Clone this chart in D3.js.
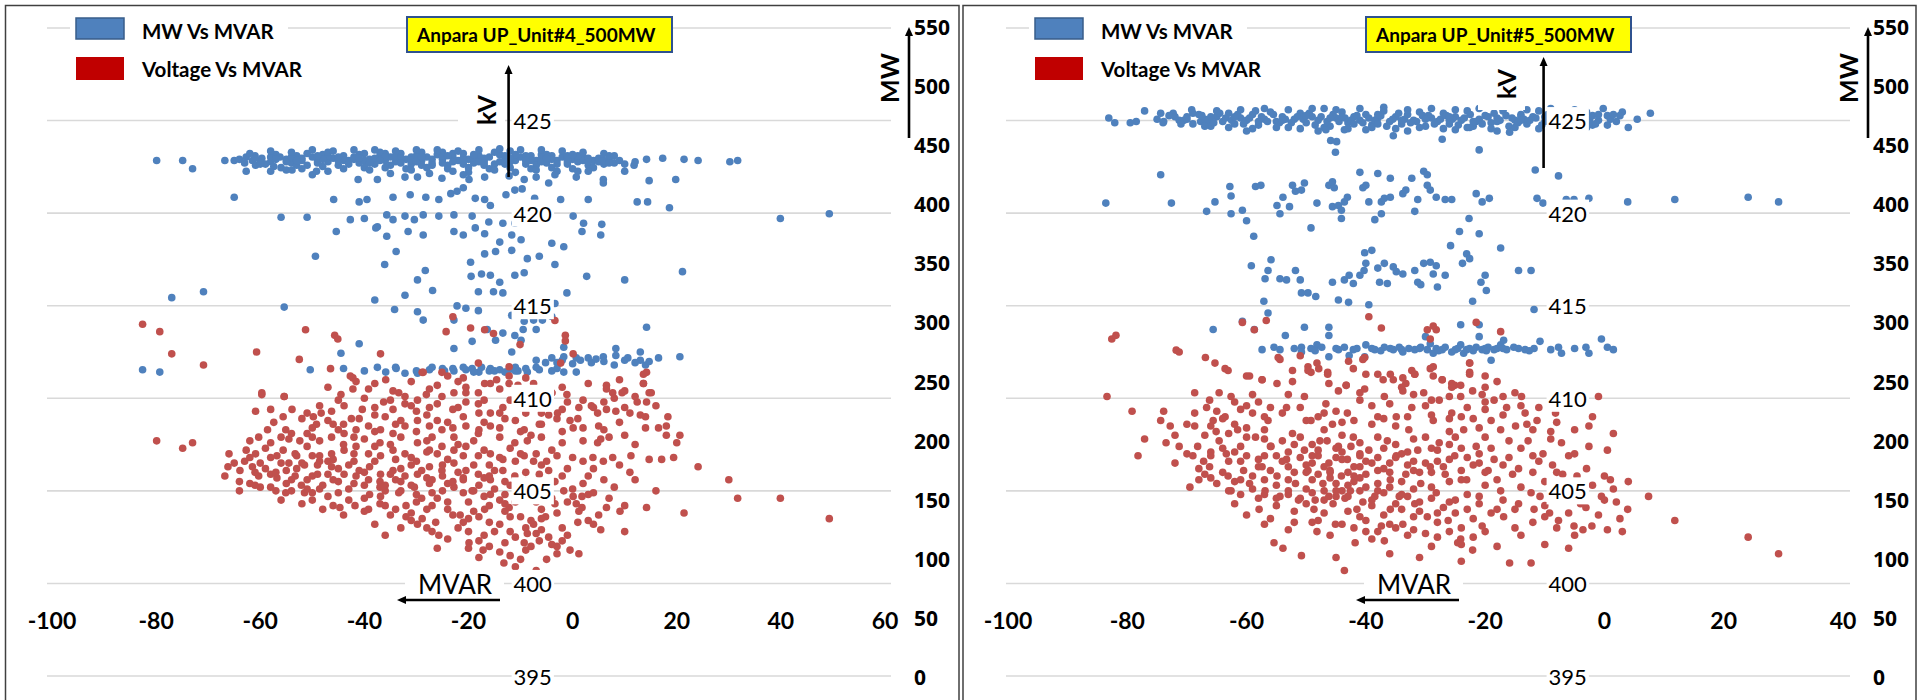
<!DOCTYPE html>
<html>
<head>
<meta charset="utf-8">
<script src="https://cdn.jsdelivr.net/npm/d3@7"></script>
<style>
  body { margin: 0; background: #fff; }
  svg { display: block; font-family: Lato, "Open Sans", sans-serif; }
</style>
</head>
<body>
<script>
const WIDTH = 1921, HEIGHT = 700;

// ---- data ----
const titles = ["Anpara UP_Unit#4_500MW", "Anpara UP_Unit#5_500MW"];
const legendLabels = ["MW Vs MVAR", "Voltage Vs MVAR"];
const mvarTicksUnit4 = [-100, -80, -60, -40, -20, 0, 20, 40, 60];
const mvarTicksUnit5 = [-100, -80, -60, -40, -20, 0, 20, 40];
const kvTicks = [395, 400, 405, 410, 415, 420, 425];
const kvGrid = [395, 400, 405, 410, 415, 420, 425, 430];
const mwTicks = [0, 50, 100, 150, 200, 250, 300, 350, 400, 450, 500, 550];

// Unit 4: [MVAR, MW]
const unit4MwVsMvar = [
  [-79.9,437],[-74.9,437],[-73.0,430],[-66.8,437],[-65.0,437],[-64,438],[-62.7,440],[-61.5,437],[-60.9,433],[-59.7,439],
  [-58,436],[-57.4,432],[-56.2,440],[-55,438],[-54,435],[-53,441],[-52,437],[-51,433],[-50,440],[-49,437],[-48,442],
  [-47,436],[-46,439],[-45,433],[-44,441],[-43,437],[-42,440],[-41,435],[-40,443],[-39,438],[-38,434],[-37,441],
  [-36,437],[-35,440],[-34,436],[-33,443],[-32,438],[-31,434],[-30,441],[-29,437],[-28,440],[-27,435],[-26,442],
  [-25,438],[-24,433],[-23,440],[-22,437],[-21,443],[-20,438],[-19,435],[-18,441],[-17,437],[-16,440],[-15,434],
  [-14,442],[-13,438],[-12,445],[-11,437],[-10,440],[-9,434],[-8,441],[-7,437],[-6,439],[-5,435],[-4,441],[-3,437],
  [-2,440],[-1,434],[0,438],[1,436],[2,440],[3,433],[4,437],[5,439],[6,434],[7,438],[8,435],[10,434],[11.8,433],
  [14.2,438],[14.7,420],[17.3,439],[19.8,421],[21.4,438],[24.1,437],[30.2,436],[31.7,437],
  [-44,437],[-38,439],[-31,440],[-27,438],[-19,439],[-9,438],[-6,442],[-36,443],[-23,436],[-14,436],[-1,441],
  [-52,439],[-47,441],[-40,437],[-34,441],[-29,433],[-21,439],[-17,433],[-12,436],[-4,438],[2,437],[-58,440],
  [-25,444],[-13,441],[-8,437],
  [-63,435],[-61,441],[-59,434],[-57,442],[-55,436],[-53,433],[-51,443],[-49,435],[-47,444],[-45,437],[-43,434],
  [-41,442],[-39,435],[-37,444],[-35,433],[-33,439],[-31,437],[-29,444],[-27,433],[-25,440],[-23,443],[-21,434],
  [-19,442],[-17,439],[-15,444],[-13,434],[-11,442],[-9,441],[-7,433],[-5,442],[-3,434],[-1,438],[1,441],[3,439],
  [5,436],[7,441],[9,437],[12,436],[-60,437],[-54,440],[-48,438],[-42,438],[-36,440],[-30,436],[-24,441],[-18,436],
  [-12,439],[-6,436],[0,442],[6,437],
  [-62,443],[-60,434],[-58,445],[-56,431],[-54,444],[-52,430],[-50,446],[-48,432],[-46,445],[-44,430],[-42,446],
  [-40,431],[-38,446],[-36,431],[-34,445],[-32,430],[-30,446],[-28,431],[-26,446],[-24,430],[-22,445],[-20,431],
  [-18,446],[-16,430],[-14,447],[-12,431],[-10,446],[-8,430],[-6,446],[-4,431],[-2,445],[0,430],[2,444],[4,431],
  [6,443],[8,441],[-61,439],[-57,438],[-53,437],[-49,441],[-45,440],[-41,439],[-37,437],[-33,435],[-29,440],
  [-25,435],[-21,437],[-17,435],[-13,436],[-9,437],[-5,439],[-1,436],[3,436],[7,435],
  [-55,429],[-47,428],[-39,429],[-31,429],[-23,428],[-15,429],[-7,429],[1,428],[-50,425],[-35,426],[-20,427],
  [-11,427],[-3,428],
  [-62.7,428],[-58,428],[-53.9,429],[-41.2,421],[-37.5,421],[-29.8,423],[-27.5,426],[-21,425],[-16.9,423],
  [-12.2,424],[-9.3,421],[-7,423],[-3.4,425],[0.7,423],[5.9,421],[5.9,418],[10,428],[-49.2,428],[-32.2,423],
  [-25.1,422],[-19.9,421],[-4.6,418],[3,428],
  [-65,406],[-45.9,404],[-41,402],[-39.5,404],[-34.5,406],[-31.2,408],[-28.2,406],[-25.7,404],[-23.4,409],
  [-22.2,411],[-21,414],[-18.7,405],[-16.9,404],[-15.8,399],[-12.8,408],[-11.1,412],[-9.7,413],[-7.3,405],
  [-2.3,404],[3,404],[12.4,402],[14.4,402],[18.6,397],[-56,389],[-51,389],[-42.7,387],[-40,388],[-37.5,381],
  [-35.7,391],[-34.5,387],[-32.2,390],[-30.4,387],[-28.7,391],[-25.7,390],[-22.8,391],[-19.3,390],[-16.1,385],
  [-13.4,384],[-11.1,384],[-7.5,391],[0.1,390],[2.1,384],[5.6,383],[-45.4,377],[-37.8,380],[-35.7,373],
  [-31.6,377],[-28.7,374],[-22.8,377],[-21,374],[-18.7,380],[-16.9,375],[-14,368],[-11.7,374],[-9.9,370],
  [-4,367],[-1.7,364],[1.8,377],[5.4,374],[39.9,388],[49.3,392],
  [-49.4,356],[-33.9,360],[-36.1,349],[-28.3,344],[-29.8,336],[-26.9,327],[-19.6,351],[-16.9,358],[-14.8,360],
  [-11.7,361],[-8.7,354],[-6.4,356],[-3.4,349],[-19.5,339],[-17.5,341],[-15.8,340],[-14,334],[-11.1,340],
  [-9.3,342],[2.7,339],[10,336],[21.1,343],[-18.1,326],[-15.2,326],[-13.4,325],[-32.2,323],[-38,319],[-77,321],
  [-70.9,326],[-55.4,313],[-22.2,314],[-20.5,312],[-18.1,310],[-3.4,316],[-1.1,325],[-34.2,311],[-29.8,309],
  [-28.7,302],[-22.8,302],[-11.7,306],[-9.3,301],[-7.5,302],[-5.8,302],[-4,305],[-16.4,294],[-13.4,291],
  [-11.1,289],[-9.5,294],[-7,294],[-19.3,284],[-14.8,285],[-9.9,285],[-22.8,278],[-11.7,275],[-1.7,279],
  [-41,282],[-44.5,274],[14.2,296],[8.3,278],[13,275],
  [-4,270],[-1.7,271],[0.7,270],[3,270],[5.9,271],[8.3,272],[10.6,270],[13,268],[16.5,270],[20.6,271],[-5.2,266],
  [-3,266],[0,265],[3.6,266],[6,267],[8,264],[12,266],[14,264],[14.7,267],[-7,268],[-2,268],[1.5,268],[4.5,269],[10,268],
  [-37.5,262],[-33.9,261],[-32.2,257],[-27.5,260],[-24.6,259],[-22.8,259],[-20.5,260],[-19.3,261],[-17.5,262],
  [-15.8,261],[-14,260],[-12.2,260],[-10.5,259],[-8.7,258],[-6.4,260],[-4,259],[-1.7,258],[0.7,258],[-50.4,260],
  [-82.6,260],[-79.3,258],[-35.9,258],[-29.8,257],[-18,258],[-13,258],[-16,259],[-11,262],[-21,262],[-25,261],
  [-9,261],[-34,262],[-30,259],[-27,262],[-23,261],[-19,258],[-15,259],[-11,259],[-7,262],[-3,261],[-44,261],[-40,259]
];

// Unit 4: [MVAR, kV]
const unit4KvVsMvar = [
  [-82.6,414.0],[-79.3,413.6],[-77.0,412.4],[-70.9,411.8],[-60.7,412.5],[-52.5,412.1],[-51.3,413.7],[-45.7,413.4],
  [-45.1,413.2],[-46.5,411.6],[-36.9,412.4],[-42.2,411.1],[-59.7,410.2],[-55.4,410.1],[-24.3,413.6],[-23.0,414.4],
  [-19.6,413.8],[-16.9,413.7],[-15.2,413.5],[-10.1,412.9],[-3.4,414.2],[-1.4,413.4],[-1.4,413.1],[0.1,412.4],
  [-2.3,411.9],[14.2,411.4],[13.6,410.8],[-28.9,411.4],[-24.0,411.2],[-18.1,411.9],[-15.8,410.8],[-12.2,411.7],
  [-12.2,410.8],[6.5,410.7],[9.5,410.3],[15.1,410.3],[-7.5,410.8],[-33.4,410.3],[-28.1,410.2],[-20.5,410.3],[-4.0,410.3],
  [-42.7,411.2],[-41.6,410.9],[-39.2,410.5],[-35.9,411.0],[-28.7,411.4],[-25.1,411.4],[-21.0,411.1],[-16.9,410.8],
  [-14.6,411.0],[-12.2,411.2],[-10.5,410.7],[-8.7,410.4],[-6.4,410.1],[-4.0,410.3],[-1.1,410.2],[1.2,409.5],
  [6.5,410.5],[7.7,410.3],[10.0,410.4],[13.6,411.3],[13.6,410.8],[14.7,410.3],[14.2,409.8],[12.4,409.8],[10.0,409.5],
  [6.5,409.4],[4.8,409.2],[3.6,409.6],[8.3,409.3],[13.0,409.1],[18.3,409.0],[16.5,408.4],[20.6,408.0],[20.0,407.6],
  [17.1,406.7],[24.1,406.3],[19.4,406.8],[30.0,405.6],[31.7,404.6],[39.9,404.6],[49.3,403.5],[21.4,403.8],
  [14.2,404.1],[10.0,402.8],[9.1,403.9],[6.5,404.1],[5.4,402.9],[3.0,403.4],[1.2,403.9],[0.7,404.3],[1.8,404.7],
  [3.9,406.8],[5.9,406.6],[7.7,406.8],[11.2,406.9],[14.7,406.7],[4.8,407.6],[5.4,407.8],[0.1,408.4],[-0.5,408.8],
  [-2.9,409.2],[-4.6,409.1],[-6.4,408.6],[-9.3,408.3],[-8.7,407.7],[-11.1,407.6],[-9.3,406.9],[-7.5,406.6],
  [-6.4,405.9],[-4.6,406.1],[-3.4,405.5],[-1.7,405.0],[0.1,404.7],[1.8,404.1],[-3.4,404.3],[-5.2,403.6],[-7.5,403.2],
  [-8.7,402.7],[-9.3,402.2],[-6.4,402.3],[-4.6,402.5],[-4.0,402.1],[-0.5,401.8],[1.2,401.6],[-7.0,400.7],[-13.2,401.1],
  [-12.0,401.5],[-17.2,401.8],[-19.9,402.2],[-25.7,402.6],[-29.8,403.2],[-28.9,403.5],[-26.3,403.3],[-21.6,403.7],
  [-16.9,404.0],[-14.0,404.5],[-12.2,404.1],[-15.8,404.8],[-19.3,405.0],[-22.8,405.2],[-27.5,405.4],[-30.4,405.2],
  [-33.4,404.9],[-36.9,404.7],[-39.2,404.0],[-41.8,404.2],[-44.7,404.1],[-48.6,405.1],[-51.5,404.9],[-55.1,404.9],
  [-52.1,405.3],[-53.3,405.8],[-56.8,405.7],[-60.3,405.8],[-61.5,406.3],[-63.9,406.1],[-66.8,405.8],[-66.2,406.3],
  [-65.0,406.5],[-62.7,407.2],[-60.9,407.0],[-60.3,407.9],[-58.6,408.3],[-57.4,408.7],[-55.6,409.0],[-55.1,408.3],
  [-54.5,407.8],[-52.4,407.7],[-51.0,408.1],[-49.2,408.6],[-49.8,409.0],[-48.3,409.2],[-46.3,409.3],[-43.9,409.6],
  [-42.5,408.9],[-40.4,409.4],[-38.0,409.5],[-36.3,409.8],[-34.5,409.4],[-32.2,409.7],[-29.8,409.9],[-27.5,409.5],
  [-25.1,410.1],[-22.8,410.3],[-20.5,409.8],[-18.1,409.7],[-15.8,409.2],[-13.4,409.5],[-15.8,408.5],[-18.1,408.1],
  [-20.5,408.5],[-22.8,407.9],[-25.1,408.3],[-27.5,408.5],[-29.8,408.8],[-32.2,408.5],[-34.5,408.1],[-36.9,408.3],
  [-39.2,408.5],[-41.6,408.3],[-43.9,408.1],[-46.3,407.9],[-48.6,407.7],[-51.0,407.4],[-53.3,407.0],[-55.6,407.2],
  [-56.8,406.9],[-54.5,406.5],[-51.5,406.4],[-48.6,406.6],[-46.3,406.3],[-43.9,405.9],[-41.6,405.8],[-39.2,405.6],
  [-36.9,405.9],[-34.5,406.1],[-32.2,405.8],[-29.8,405.9],[-27.5,406.3],[-25.1,406.1],[-22.8,406.5],[-20.5,406.1],
  [-18.1,405.9],[-15.8,405.6],[-13.4,406.1],[-11.1,405.8],[-13.4,406.7],[-15.8,407.0],[-18.1,406.9],[-20.5,407.4],
  [-22.8,407.2],[-25.1,407.4],[-27.5,407.2],[-29.8,407.6],[-32.2,407.0],[-34.5,407.2],[-36.9,406.9],[-39.2,407.0],
  [-41.6,407.4],[-43.9,407.2],[-46.3,407.0],[-48.6,406.9],[-51.0,409.2],[-53.9,409.4],[-58.0,409.4],[-60.9,409.3],
  [-59.7,410.3],[-55.4,410.1],[-48.6,409.6],[-44.5,410.2],[-42.2,410.5],[-34.5,410.4],[-32.2,410.1],[-27.5,410.5],
  [-20.5,410.6],[-18.1,410.3],[-79.9,407.7],[-74.9,407.3],[-73.0,407.6],
  [-30,404.4],[-26,404.6],[-24,404.0],[-20,404.4],[-18,403.6],[-14,403.2],[-12,402.8],[-10,403.6],[-6,404.0],
  [-22,403.0],[-17,402.6],[-10,401.3],[-8,402.0],[-13,402.2],[-2,403.0],[-3,402.0],[-28,404.0],[-32,404.2],
  [-36,405.0],[-40,405.3],[-45,405.5],[-47,404.7],[-50,405.8],[-58,406.8],[-62,405.4],[-64,405.0],[-35,403.7],
  [-38,403.2],[-33,403.0],[-20,402.8],[-6,405.2],[-2,405.8],[2,405.4],[4,406.2],[0,406.8],[-4,407.2],[-8,408.0],
  [-11,408.8],[-5,409.6],[-9,409.8],[-24,408.7],[-30,408.2],[-44,408.6],[-38,409.1],[-47,410.6],[-28,407.7],
  [-16,406.4],[-12,407.3],[-6,406.4],[8,405.2],[12,405.6],[16,405.0],[10,404.2],[4,403.2],
  [-38,410.8],[-31,410.9],[-26,410.7],[-22,410.9],[-14,410.5],[-9,411.1],[-2,410.6],[3,410.8],[9,411.0],[12,410.1],
  [-45,409.9],[-40,410.0],[-35,409.9],[-31,409.6],[-26,409.7],[-23,409.4],[-17,409.9],[-12,409.9],[-7,409.6],
  [-1,409.8],[2,409.9],[6,409.8],[11,409.2],[16,409.6],
  [-52,408.9],[-47,408.8],[-41,408.9],[-36,409.0],[-33,408.8],[-28,409.1],[-21,409.0],[-17,408.7],[-13,408.9],
  [-9,409.2],[-3,408.9],[1,408.9],[5,408.5],[9,408.7],[14,408.4],[18,408.5],
  [-56,407.9],[-50,407.9],[-45,408.3],[-40,407.8],[-37,407.6],[-33,407.9],[-27,407.9],[-23,408.4],[-19,407.7],
  [-14,407.9],[-10,408.2],[-6,407.9],[-2,408.2],[2,407.7],[7,407.9],[12,407.5],
  [-62,406.8],[-59,407.3],[-56,406.5],[-53,406.9],[-50,406.9],[-47,406.6],[-44,407.5],[-42,406.6],[-38,406.6],
  [-35,407.5],[-31,406.8],[-28,407.1],[-24,406.7],[-21,406.9],[-17,407.2],[-14,406.8],[-11,406.6],[-7,407.0],
  [-3,406.9],[2,406.6],[9,406.4],
  [-64,405.5],[-61,406.0],[-58,405.9],[-55,406.1],[-52,406.5],[-49,405.9],[-46,405.6],[-43,406.4],[-40,406.0],
  [-37,405.5],[-34,405.6],[-31,406.4],[-28,405.7],[-25,405.8],[-22,406.0],[-19,406.4],[-16,405.8],[-13,405.5],
  [-9,406.0],[-5,406.6],[-1,406.2],[3,405.8],[6,405.6],[11,406.0],
  [-60,405.2],[-57,405.0],[-54,405.6],[-51,405.1],[-48,405.3],[-45,404.9],[-42,405.4],[-39,404.8],[-36,405.3],
  [-33,405.5],[-30,404.8],[-27,404.9],[-24,405.4],[-21,404.9],[-18,405.3],[-15,405.1],[-12,405.3],[-9,404.8],
  [-5,405.0],[-1,404.4],[3,404.8],[7,404.6],
  [-50,404.5],[-46,404.2],[-43,404.5],[-40,403.9],[-37,404.3],[-34,404.0],[-31,403.8],[-27,404.2],[-23,403.7],
  [-19,403.9],[-16,403.3],[-13,403.9],[-11,404.4],[-8,403.4],[-6,403.5],[-3,403.8],[1,403.3],[5,403.7],
  [-36,402.6],[-31,403.4],[-27,402.8],[-24,402.4],[-21,403.3],[-18,402.3],[-15,402.8],[-11,402.5],[-9,401.8],
  [-7,402.7],[-5,401.3],[-3,401.6],[-1,402.6],[-14,401.7],[-11,400.9],[-18,401.4],
  [-63,406.6],[-61,405.3],[-59,406.2],[-57,406.0],[-55,405.4],[-53,406.2],[-51,405.6],[-49,406.4],[-47,405.9],
  [-45,406.2],[-43,405.1],[-41,406.1],[-39,406.3],[-37,405.2],[-35,405.9],[-33,406.2],[-31,405.3],[-29,406.1],
  [-27,405.6],[-25,406.4],[-23,405.5],[-21,405.7],[-19,405.0],[-17,405.7],[-15,406.1],[-13,404.8],[-11,405.2],
  [-9,405.5],[-7,404.4],
  [-58,407.6],[-54,408.1],[-50,408.4],[-46,408.6],[-42,407.9],[-38,408.2],[-34,408.6],[-30,409.3],[-26,408.8],
  [-22,409.5],[-18,409.2],[-14,409.2],[-10,409.5],[-6,409.2],[-2,409.4],[4,409.5],[8,410.0],
  [-52,404.3],[-48,404.0],[-44,403.7],[-40,404.6],[-36,404.2],[-32,403.6],[-28,403.0],[-24,404.4],[-20,403.5],
  [-16,404.2],[-12,403.6],[-8,404.9],[-4,404.6],[0,405.1],[4,404.9],
  [-33,405.0],[-29,404.6],[-25,405.0],[-21,405.6],[-17,404.7],[-13,404.3],[-9,403.0],[-6,402.9],[-2,402.3],
  [-16,402.0],[-20,401.9],[-26,401.9],
  [-66,407.0],[-62,407.7],[-60,406.5],[-58,405.2],[-56,404.5],[-54,405.0],[-50,404.9],[-46,406.7],[-42,407.0],
  [-38,407.4],[-34,406.7],[-30,406.6],[-26,407.0],[-22,407.5],[-18,408.3],[-14,408.4],[-10,407.0],[-6,408.6],
  [-2,407.6],[2,408.4],[6,408.3],[10,408.0],[14,409.0],[18,408.0]
];

// Unit 5: [MVAR, MW]
const unit5MwVsMvar = [
  [-83.1,473],[-82.1,469],[-79.5,469],[-78.5,470],[-77.1,479],[-74.4,477],[-73.9,470],[-72.3,477],[-71.3,471],
  [-69.2,480],[-67.7,470],
  [-70,474],[-69,468],[-68,476],[-67,472],[-66,466],[-65,474],[-64,470],[-63,477],[-62,468],[-61,473],[-60,471],
  [-59,476],[-58,467],[-57,472],[-56,478],[-55,470],[-54,474],[-53,465],[-52,472],[-51,477],[-50,469],[-49,474],
  [-48,471],[-47,481],[-46,466],[-45,473],[-44,478],[-43,469],[-42,474],[-41,471],[-40,476],[-39,467],[-38,473],
  [-37,479],[-36,470],[-35,474],[-34,468],[-33,476],[-32,471],[-31,478],[-30,466],[-29,473],[-28,470],[-27,477],
  [-26,468],[-25,474],[-24,471],[-23,479],[-22,466],[-21,472],[-20,475],[-19,469],[-18,473],[-17,479],[-16,466],
  [-15,471],[-14,476],[-13,468],[-12,474],[-11,479],[-10,470],[-9,473],[-8,467],[-7,472],[-6,476],[-5,469],[-4,474],
  [-3,478],[-2,467],[-1,471],[0.5,475],[2,470],[3,478],[4,465],[5.5,472],
  [-66.5,471],[-63.5,473],[-60.5,468],[-57.5,474],[-54.5,469],[-51.5,474],[-48.5,467],[-45.5,476],[-42.5,471],
  [-39.5,473],[-36.5,466],[-33.5,472],[-30.5,475],[-27.5,472],[-24.5,467],[-21.5,470],[-18.5,477],[-15.5,473],
  [-12.5,471],[-9.5,476],[-6.5,470],[-64.5,477],[-58.5,479],[-52.5,469],[-44.5,470],[-37.5,475],[-31.5,470],
  [-25.5,472],[-19.5,474],[-13.5,472],[-8.5,477],[-3.5,470],
  [-72,474],[-70.5,471],[-67.5,475],[-65.5,469],[-62.5,471],[-61.5,476],[-59.5,473],[-56.5,470],[-55.5,476],
  [-53.5,472],[-50.5,472],[-49.5,477],[-47.5,474],[-46.5,470],[-43.5,473],[-41.5,475],[-40.5,469],[-38.5,471],
  [-35.5,472],[-34.5,477],[-32.5,469],[-29.5,475],[-28.5,468],[-26.5,475],[-23.5,473],[-22.5,476],[-20.5,468],
  [-17.5,471],[-16.5,475],[-14.5,469],[-11.5,473],[-10.5,467],[-7.5,474],[-5.5,472],[-4.5,476],[-2.5,472],
  [-1.5,468],[1,472],[-44,474],[-38,468],[-26,471],[-14,474],
  [-75,472],[-73,475],[-71,468],[-69,477],[-67,466],[-65,479],[-63,465],[-61,480],[-59,464],[-57,481],[-55,465],
  [-53,480],[-51,464],[-49,481],[-47,465],[-45,480],[-43,464],[-41,481],[-39,465],[-37,482],[-35,464],[-33,480],
  [-31,465],[-29,481],[-27,464],[-25,480],[-23,465],[-21,481],[-19,464],[-17,481],[-15,465],[-13,480],[-11,464],
  [-9,481],[-7,466],[-5,480],[-3,465],
  [-74,469],[-70,472],[-66,474],[-62,474],[-58,470],[-54,471],[-50,475],[-46,473],[-42,468],[-38,476],[-34,471],
  [-30,472],[-26,474],[-22,470],[-18,470],[-14,471],[-10,474],[-6,473],[-2,475],
  [-60,462],[-48,462],[-40,463],[-33,462],[-25,463],[-18,462],[-9,463],
  [-4.1,473],[-2.6,469],[-1,476],[-0.2,481],[0.5,467],[1.5,476],[2.6,475],[7.7,477],
  [-46.7,463],[-45.9,454],[-44.9,453],[-45.1,444],[-43.6,463],[-35.4,458],[-27.2,455],[-21,446],[-15.9,461],[-22.6,465],
  [-11.6,429],[-7.7,424],[-74.4,425],[-83.6,401],[-72.6,401],[-66.7,394],[-65.3,402],[-62.8,415],[-62.6,407],
  [-62.6,392],[-60.7,395],[-60,386],[-58.8,373],[-58.5,415],[-57.6,416],[-54.9,399],[-54.4,392],[-53.9,406],
  [-52.8,398],[-52.3,416],[-51.8,411],[-50.8,412],[-50.3,418],[-49.2,380],[-48.2,401],[-46.2,416],[-45.6,419],
  [-45.3,414],[-45.6,398],[-44.6,399],[-44.1,395],[-43.6,402],[-43.1,406],[-44.1,388],[-41,427],[-40.5,414],
  [-40,416],[-39.5,402],[-38,426],[-37.4,402],[-36.9,405],[-37.4,392],[-38.5,387],[-35.9,422],[-35.9,406],
  [-33.8,409],[-33.3,412],[-32.3,422],[-31.8,394],[-31.3,404],[-30.3,428],[-29.7,425],[-29.7,416],[-29.2,412],
  [-28.2,406],[-26.7,404],[-25.6,404],[-22.7,388],[-21.5,409],[-20.5,402],[-19.3,405],[-24.3,377],[-21,375],
  [-17.4,363],[-11.3,405],[-10.3,401],[-6.4,404],[-5.1,404],[-2.6,405],[3.9,402],[11.8,404],[24.1,406],[29.2,402],
  [-59.2,348],[-55.9,353],[-56.4,344],[-56.9,337],[-54.4,337],[-53.3,336],[-51.8,344],[-51,336],[-50.8,325],
  [-49.7,325],[-48.4,322],[-57.1,318],[-44.6,319],[-42.9,317],[-39.5,315],[-45.6,334],[-43.6,336],[-42.8,340],
  [-42.1,333],[-41,340],[-40.3,344],[-40.2,359],[-39,361],[-40,350],[-38,346],[-37.7,334],[-36.4,333],[-36.9,350],
  [-35.4,347],[-34.9,343],[-33.8,341],[-31.8,344],[-31.3,334],[-30.8,332],[-30.3,350],[-29.2,351],[-28.7,341],
  [-28.2,348],[-28,330],[-26.7,340],[-25.8,365],[-23.8,350],[-23.1,358],[-22.6,354],[-20.7,334],[-20,340],
  [-19.8,327],[-22.1,318],[-14.4,344],[-12.3,344],[-11.8,311],
  [-65.6,294],[-60.7,301],[-58.7,294],[-56.4,308],[-57.4,277],[-55.4,279],[-54.4,277],[-53.5,289],[-50.8,279],
  [-50.3,296],[-49.2,278],[-48.2,281],[-46.2,296],[-46.2,289],[-44.6,277],[-43.6,279],[-42.1,277],[-40,281],
  [-38.5,277],[-36.9,279],[-35.9,278],[-35.4,277],[-34.4,279],[-33.8,275],[-32.8,278],[-31.8,277],[-30.8,279],
  [-30,288],[-29.7,277],[-29.2,282],[-28.7,274],[-28.2,278],[-27.2,277],[-26.7,279],[-25.6,275],[-24.6,278],
  [-24.1,298],[-24.1,281],[-23.6,274],[-23.1,277],[-22.6,278],[-21.5,279],[-21,298],[-21,288],[-20.5,277],
  [-20,278],[-19.5,279],[-19,268],[-18.5,277],[-18,278],[-17.4,281],[-16.9,285],[-16.4,277],[-14.4,278],
  [-13.3,277],[-11.8,278],[-10.8,284],[-7.7,279],[-7.2,274],[-3.1,279],[-2.6,274],[-0.5,286],[0.5,279],
  [1.5,277],[-42.8,272],[-46.2,271],[-40.2,271],[-50.8,275],[-47.4,279],[-41.5,278],
  [-39,278],[-37.5,276],[-34,277],[-31,278],[-27.8,276],[-25,277],[-22,276],[-19.8,276],[-17,278],[-15.2,279],
  [-12.6,276],[-9,277],[-5,278],[-45,278],[-48.5,276],[-52,278]
];

// Unit 5: [MVAR, kV]
const unit5KvVsMvar = [
  [-82.6,413.2],[-81.9,413.4],[-71.8,412.6],[-71.3,412.5],[-66.9,412.2],[-65.3,411.9],[-63.6,411.6],[-63.1,411.5],
  [-60.7,414.1],[-58.7,413.7],[-56.7,414.2],[-59.5,411.2],[-57.4,411.0],[-54.7,412.2],[-52.3,411.5],[-51,412.3],
  [-49.7,411.7],[-49.2,411.4],[-47.9,411.6],[-46.4,411.4],[-46.2,410.8],[-43.3,410.7],[-42.9,412.0],[-42.1,411.6],
  [-40.2,412.2],[-39.5,414.4],[-40,411.3],[-37.4,413.8],[-37.1,411.0],[-35.9,411.3],[-33.8,411.1],[-33.3,410.8],
  [-32.3,411.5],[-31.8,411.3],[-29.7,413.7],[-29.2,413.2],[-28.2,413.7],[-28.7,411.7],[-28.7,411.2],[-27.2,411.0],
  [-25.6,410.8],[-25.1,410.7],[-24.1,410.7],[-22.6,411.9],[-22.6,411.4],[-21.5,414.1],[-20,410.6],[-17.4,413.6],
  [-28.7,413.9],
  [-83.4,410.1],[-79.2,409.3],[-78.2,406.9],[-77.1,407.8],[-74.4,408.8],[-73.9,409.3],[-72.8,408.5],[-73.5,407.6],
  [-71.3,407.4],[-69.5,405.2],[-68.7,410.3],[-68.7,409.2],[-68.7,408.5],[-68.2,407.4],[-67.2,406.6],[-66.2,406.3],
  [-66.7,409.5],[-66.2,409.9],[-65.6,408.8],[-65.1,408.2],[-64.6,410.3],[-64.6,407.7],[-63.6,409.0],[-63.4,407.0],
  [-63.1,405.8],[-62.6,410.1],[-62.6,405.0],[-61.5,408.3],[-61.0,407.4],[-60.5,406.1],[-60.0,411.2],[-60.0,406.9],
  [-59.5,405.4],[-59.0,409.2],[-58.5,407.9],[-57.9,404.0],[-57.4,411.0],[-57.4,406.3],[-56.9,405.0],[-56.4,408.8],
  [-55.9,407.4],[-55.4,402.2],[-54.9,410.8],[-54.9,405.8],[-54.4,412.1],[-54.4,404.7],[-53.9,401.9],[-53.3,409.5],
  [-53.3,406.7],[-52.3,410.9],[-52.3,408.1],[-51.8,405.4],[-51.3,404.5],[-50.8,401.5],[-50.3,410.1],[-50.3,407.2],
  [-49.7,411.5],[-49.7,406.1],[-49.2,408.8],[-48.7,404.0],[-48.2,402.8],[-48.2,411.9],[-47.7,407.7],[-47.2,405.4],
  [-46.7,409.7],[-46.4,411.3],[-46.2,406.5],[-46.2,404.7],[-45.6,408.6],[-45.1,403.2],[-44.6,410.4],[-44.6,407.4],
  [-44.1,405.8],[-43.6,400.7],[-43.3,410.7],[-43.1,409.2],[-43.1,406.7],[-42.6,405.0],[-42.1,407.9],[-41.8,402.2],
  [-41.5,404.0],[-41.0,409.9],[-41.0,406.3],[-40.5,412.1],[-40.2,410.5],[-40.0,405.2],[-39.5,407.2],[-39.0,408.6],
  [-38.5,404.7],[-38.0,411.3],[-38.0,406.1],[-37.4,403.1],[-36.9,410.1],[-36.9,402.3],[-36.4,407.7],[-35.9,405.6],
  [-35.9,404.0],[-35.4,411.0],[-34.9,409.0],[-34.9,406.9],[-34.4,404.7],[-33.8,410.4],[-33.8,403.2],[-33.3,405.9],
  [-32.8,408.3],[-32.3,409.5],[-31.8,404.3],[-31.8,411.3],[-31.3,407.2],[-30.8,405.4],[-30.3,410.3],[-29.7,403.6],
  [-29.2,406.3],[-29.2,411.6],[-28.7,408.8],[-28.2,404.9],[-27.7,409.9],[-27.7,407.6],[-27.2,411.0],[-26.7,405.9],
  [-26.2,403.4],[-25.6,410.6],[-25.6,409.2],[-25.1,406.9],[-24.6,402.2],[-24.1,410.1],[-24.1,402.4],[-23.6,408.3],
  [-23.1,405.6],[-22.6,411.9],[-22.6,411.3],[-22.1,410.4],[-22.1,401.8],[-21.5,407.4],[-21.0,404.7],[-20.5,410.2],
  [-20.5,403.1],[-20.0,409.4],[-19.5,406.1],[-19.0,408.8],[-18.5,409.9],[-18.5,406.7],[-18.0,404.0],[-17.4,408.3],
  [-17.4,405.0],[-16.9,403.6],[-16.4,409.5],[-15.9,401.1],[-15.4,405.9],[-14.9,408.5],[-14.4,404.3],[-14.4,406.2],
  [-13.9,410.1],[-13.3,409.2],[-12.8,407.7],[-12.3,401.1],[-12.3,404.9],[-11.8,404.0],[-11.3,408.8],[-10.8,404.7],
  [-10.3,407.0],[-9.2,403.8],[-8.7,406.4],[-8.2,409.2],[-7.7,403.4],[-7.2,407.6],[-6.2,405.0],[-5.1,403.1],
  [-4.6,405.8],[-3.6,402.9],[-2.6,408.5],[-2.6,407.4],[-2.1,403.1],[-1.0,410.1],[-0.5,404.7],[0.0,405.8],
  [0.5,407.2],[0.5,402.9],[1.0,405.6],[1.5,408.1],[2.6,403.5],[3.9,404.0],[7.4,404.7],[11.8,403.4],[24.1,402.5],
  [29.2,401.6],[1.5,405.1],[-3.1,404.1],
  [-50,406.4],[-49,405.6],[-48,406.9],[-47,405.0],[-46,406.1],[-45,405.4],[-44,406.7],[-43,405.3],[-42,406.3],
  [-41,405.7],[-48.5,404.5],[-45.5,404.3],[-43.5,404.6],[-40.5,404.4],[-46.5,407.7],[-42.5,407.4],[-52,406.0],
  [-53,404.8],[-55,406.9],[-57,407.8],[-58,409.8],[-60,409.6],[-62,408.6],[-64,406.0],[-66,405.7],[-68,405.6],
  [-70,407.0],[-72,406.5],[-38,405.4],[-36,406.5],[-34,405.5],[-32,406.6],[-30,407.9],[-28,406.6],[-26,408.2],
  [-24,407.3],[-22,408.9],[-20,407.9],[-35,403.0],[-32,403.6],[-30,402.7],[-28,403.8],[-26,404.4],[-24,403.0],
  [-40,403.4],[-38,402.8],[-36,409.7],[-34,410.6],[-30,409.6],[-26,410.1],[-20,411.2],[-18,410.9],[-15,410.3],
  [-12,406.0],[-10,405.5],[-8,404.5],[-6,406.9],[-4,404.3],
  [-64,408.9],[-61,409.4],[-57,409.0],[-54,409.2],[-51,409.5],[-48,409.0],[-45,409.3],[-42,408.8],[-39,409.6],
  [-37,408.9],[-33,409.0],[-29,409.1],[-24,409.0],[-21,408.4],[-17,409.1],[-12,408.3],[-9,408.2],
  [-67,408.0],[-63,408.1],[-60,408.4],[-57,408.3],[-54,407.7],[-51,407.9],[-49,407.5],[-47,408.3],[-44,408.0],
  [-41,407.6],[-38,407.9],[-35,407.5],[-32,407.8],[-29,407.3],[-26,407.5],[-23,406.8],[-19,407.3],[-16,407.7],
  [-13,408.6],[-9,407.8],[-5,407.0],
  [-69,406.9],[-66,407.1],[-63,406.6],[-61,406.6],[-58,406.7],[-56,406.1],[-53,406.3],[-51,406.8],[-49,406.9],
  [-47,406.3],[-45,406.8],[-43,406.0],[-41,406.9],[-39,406.5],[-37,406.2],[-35,406.8],[-33,406.4],[-31,406.0],
  [-27,406.3],[-24,406.1],[-21,406.5],[-17,406.4],[-14,407.3],[-11,406.6],[-7,405.9],[-3,406.2],
  [-67,405.9],[-65,405.4],[-62,405.5],[-59,405.8],[-57,405.6],[-55,405.3],[-53,405.6],[-50,405.1],[-48,405.9],
  [-46,405.7],[-44,405.0],[-42,405.5],[-40,405.9],[-38,405.0],[-36,405.2],[-34,404.8],[-32,405.1],[-29,405.2],
  [-26,405.5],[-23,404.8],[-20,405.3],[-17,404.5],[-14,405.2],[-10,404.2],[-6,404.6],[-2,405.3],[2,404.4],[4,405.5],
  [-62,404.3],[-58,404.6],[-55,404.2],[-52,403.9],[-50,404.3],[-47,403.8],[-45,404.7],[-43,403.9],[-41,403.6],
  [-39,404.2],[-37,403.7],[-34,404.0],[-31,403.9],[-28,403.3],[-25,403.8],[-22,403.5],[-19,403.8],[-15,403.0],
  [-12,403.3],[-8,403.0],[-5,402.6],[-1,403.7],[3,402.8],
  [-57,403.2],[-53,402.9],[-49,403.3],[-46,402.6],[-42,403.0],[-39,402.4],[-33,402.6],[-29,402.0],[-26,402.8],
  [-22,402.5],[-18,402.0],[-14,402.6],[-10,402.1],[-6,401.9],[-31,401.4],[-36,401.6],[-45,401.4],[-24,401.2],
  [-66,408.5],[-64,407.3],[-62,407.1],[-60,407.9],[-58,406.3],[-56,407.4],[-54,406.6],[-52,407.5],[-50,406.0],
  [-48,407.2],[-46,406.0],[-44,407.1],[-42,405.8],[-40,406.6],[-38,406.8],[-36,406.0],[-34,407.0],[-32,406.1],
  [-30,406.5],[-28,407.2],[-26,406.7],[-24,405.6],[-22,406.4],[-20,406.0],[-18,405.6],
  [-63,405.0],[-61,404.8],[-59,405.1],[-57,404.8],[-55,404.6],[-53,405.0],[-51,404.6],[-49,404.9],[-47,404.5],
  [-45,405.0],[-43,404.7],[-41,405.0],[-39,404.5],[-37,404.9],[-35,404.3],[-33,404.7],[-31,404.4],[-29,404.6],
  [-27,404.1],[-25,404.5],[-23,404.0],[-21,404.3],
  [-60,403.7],[-56,403.5],[-52,403.3],[-48,403.4],[-44,403.2],[-40,402.8],[-36,403.2],[-32,402.9],[-28,402.5],
  [-24,402.1],[-20,402.8],
  [-65,409.3],[-62,409.8],[-59,410.2],[-56,409.5],[-53,410.2],[-50,408.8],[-47,409.2],[-44,408.7],[-41,410.3],
  [-38,409.0],[-35,408.5],[-32,410.2],[-29,409.9],[-26,408.9],[-23,409.5],[-20,409.8],[-17,410.1],[-14,409.6],
  [-11,409.5],[-8,408.7],[-5,408.3],[-2,409.0],
  [-70,408.6],[-72,408.0],[-68,406.2],[-66,406.9],[-61,405.6],[-57,406.9],[-53,407.1],[-49,406.5],[-45,407.3],
  [-41,407.0],[-37,407.3],[-33,407.1],[-29,406.0],[-25,407.9],[-21,407.0],[-16,406.8],[-12,406.9],[-8,406.0],
  [-4,405.4],[0,404.5],[-15,404.0],[-10,403.6],[-6,403.8]
];

// ---- layout ----
const BLUE = "#4F81BD", RED = "#C0504D";
const DOT_R = 3.8;
const yKv = d3.scaleLinear().domain([395, 430]).range([676, 28]);
const yMw = d3.scaleLinear().domain([0, 550]).range([677, 27]);

const panels = [
  { dx: 0, frame: [5.5, 959], title: titles[0], mw: unit4MwVsMvar, kv: unit4KvVsMvar,
    ticks: mvarTicksUnit4, xRange: [52, 885], kvCross: -12.3, kvArrow: [177, 65], kvText: [486, 110] },
  { dx: 959, frame: [963, 1916], title: titles[1], mw: unit5MwVsMvar, kv: unit5KvVsMvar,
    ticks: mvarTicksUnit5, xRange: [1008, 1843], kvCross: -10.2, kvArrow: [168, 57], kvText: [1506, 84] }
];

const svg = d3.select("body").append("svg")
  .attr("width", WIDTH)
  .attr("height", HEIGHT)
  .attr("viewBox", [0, 0, WIDTH, HEIGHT]);

svg.append("rect").attr("width", WIDTH).attr("height", HEIGHT).attr("fill", "#fff");

function arrow(g, x1, y1, x2, y2) {
  const ang = Math.atan2(y2 - y1, x2 - x1);
  const len = 9, half = 4;
  const bx = x2 - len * Math.cos(ang), by = y2 - len * Math.sin(ang);
  g.append("line")
    .attr("x1", x1).attr("y1", y1).attr("x2", bx).attr("y2", by)
    .attr("stroke", "#000").attr("stroke-width", 2.6);
  g.append("path")
    .attr("d", `M${x2},${y2}L${bx - half * Math.sin(ang)},${by + half * Math.cos(ang)}L${bx + half * Math.sin(ang)},${by - half * Math.cos(ang)}Z`)
    .attr("fill", "#000");
}

// white box behind a text node
function backfill(text, pad = 2) {
  const b = text.node().getBBox();
  d3.select(text.node().parentNode).insert("rect", () => text.node())
    .attr("x", b.x - pad).attr("y", b.y).attr("width", b.width + pad * 2).attr("height", b.height)
    .attr("fill", "#fff");
}

function drawPanel(p) {
  const g = svg.append("g");
  const dx = p.dx;
  const x = d3.scaleLinear().domain(d3.extent(p.ticks)).range(p.xRange);
  const kvX = x(p.kvCross);

  // gridlines
  g.append("g")
    .selectAll("line")
    .data(kvGrid)
    .join("line")
    .attr("x1", 47 + dx).attr("x2", 891 + dx)
    .attr("y1", d => yKv(d)).attr("y2", d => yKv(d))
    .attr("stroke", "#d9d9d9").attr("stroke-width", 1.6);

  // dots: MW series first, voltage series over it
  g.append("g")
    .selectAll("circle")
    .data(p.mw)
    .join("circle")
    .attr("cx", d => x(d[0]))
    .attr("cy", d => yMw(d[1]))
    .attr("r", DOT_R)
    .attr("fill", BLUE);
  g.append("g")
    .selectAll("circle")
    .data(p.kv)
    .join("circle")
    .attr("cx", d => x(d[0]))
    .attr("cy", d => yKv(d[1]))
    .attr("r", DOT_R)
    .attr("fill", RED);

  // MVAR tick labels
  g.append("g")
    .selectAll("text")
    .data(p.ticks)
    .join("text")
    .attr("x", d => x(d))
    .attr("y", 620)
    .attr("text-anchor", "middle")
    .attr("dominant-baseline", "central")
    .attr("font-size", 23)
    .attr("font-weight", "bold")
    .text(d => d);

  // kV labels, white backed
  const kvG = g.append("g");
  kvTicks.forEach(v => {
    const lg = kvG.append("g");
    const t = lg.append("text")
      .attr("x", kvX + 5)
      .attr("y", yKv(v))
      .attr("dominant-baseline", "central")
      .attr("font-size", 22)
      .text(v);
    backfill(t);
  });

  // MW labels
  g.append("g")
    .selectAll("text")
    .data(mwTicks)
    .join("text")
    .attr("x", 914 + dx)
    .attr("y", d => yMw(d))
    .attr("dominant-baseline", "central")
    .style("font-family", "\"Open Sans\", Lato, sans-serif")
    .style("font-size", "21px")
    .style("font-weight", "700")
    .text(d => d);

  // kV arrow and caption
  g.append("rect")
    .attr("x", p.kvText[0] - 28).attr("y", p.kvText[1] - 26)
    .attr("width", 47).attr("height", 52).attr("fill", "#fff");
  g.append("text")
    .attr("transform", `translate(${p.kvText[0]},${p.kvText[1]}) rotate(-90)`)
    .attr("text-anchor", "middle")
    .attr("dominant-baseline", "central")
    .attr("font-size", 25)
    .attr("font-weight", "bold")
    .text("kV");
  arrow(g, kvX, p.kvArrow[0], kvX, p.kvArrow[1]);

  // MW arrow and caption
  g.append("text")
    .attr("transform", `translate(${889 + dx},78) rotate(-90)`)
    .attr("text-anchor", "middle")
    .attr("dominant-baseline", "central")
    .attr("font-size", 25)
    .attr("font-weight", "bold")
    .text("MW");
  arrow(g, 909 + dx, 138, 909 + dx, 27);

  // MVAR caption and arrow
  g.append("rect")
    .attr("x", 405 + dx).attr("y", 571).attr("width", 99).attr("height", 26).attr("fill", "#fff");
  g.append("text")
    .attr("x", 455 + dx).attr("y", 584)
    .attr("text-anchor", "middle")
    .attr("dominant-baseline", "central")
    .attr("font-size", 26)
    .text("MVAR");
  arrow(g, 500 + dx, 600, 397 + dx, 600);

  // legend
  const lg = g.append("g");
  lg.append("rect").attr("x", 70 + dx).attr("y", 12).attr("width", 218).attr("height", 76).attr("fill", "#fff");
  lg.append("rect").attr("x", 76 + dx).attr("y", 18).attr("width", 48).attr("height", 21)
    .attr("fill", BLUE).attr("stroke", "#385D8A").attr("stroke-width", 1.5);
  lg.append("rect").attr("x", 76 + dx).attr("y", 57).attr("width", 48).attr("height", 23)
    .attr("fill", "#C00000");
  lg.selectAll("text")
    .data(legendLabels)
    .join("text")
    .attr("x", 142 + dx)
    .attr("y", (d, i) => (i ? 69 : 31))
    .attr("dominant-baseline", "central")
    .attr("font-size", 20.5)
    .attr("font-weight", "bold")
    .text(d => d);

  // title box
  g.append("rect")
    .attr("x", 407 + dx).attr("y", 17).attr("width", 265).attr("height", 35)
    .attr("fill", "#FFFF00").attr("stroke", "#2F528F").attr("stroke-width", 2);
  g.append("text")
    .attr("x", 417 + dx).attr("y", 34.5)
    .attr("dominant-baseline", "central")
    .attr("font-size", 19)
    .attr("font-weight", "bold")
    .text(p.title);

  // frame
  g.append("rect")
    .attr("x", p.frame[0]).attr("y", 5.5)
    .attr("width", p.frame[1] - p.frame[0]).attr("height", 700)
    .attr("fill", "none").attr("stroke", "#404040").attr("stroke-width", 1.5);
}

panels.forEach(drawPanel);
</script>
</body>
</html>
